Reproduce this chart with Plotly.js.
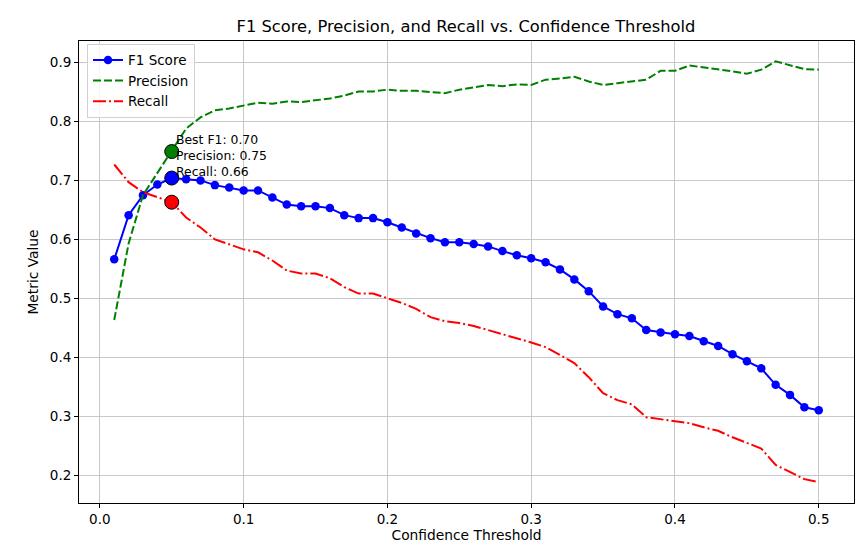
<!DOCTYPE html>
<html>
<head>
<meta charset="utf-8">
<script src="https://cdn.plot.ly/plotly-3.0.1.min.js"></script>
<style>html,body{margin:0;padding:0;background:#fff;}#chart{width:855px;height:544px;}</style>
</head>
<body>
<div id="chart"></div>
<script>
const thresholds = [0.01,0.02,0.03,0.04,0.05,0.06,0.07,0.08,0.09,0.10,
  0.11,0.12,0.13,0.14,0.15,0.16,0.17,0.18,0.19,0.20,
  0.21,0.22,0.23,0.24,0.25,0.26,0.27,0.28,0.29,0.30,
  0.31,0.32,0.33,0.34,0.35,0.36,0.37,0.38,0.39,0.40,
  0.41,0.42,0.43,0.44,0.45,0.46,0.47,0.48,0.49,0.50];
const f1Scores = [0.566,0.641,0.675,0.693,0.704,0.702,0.700,0.692,0.688,0.683,
  0.683,0.671,0.659,0.656,0.656,0.653,0.641,0.636,0.636,0.629,
  0.620,0.610,0.602,0.595,0.595,0.592,0.588,0.580,0.573,0.568,
  0.561,0.549,0.532,0.512,0.486,0.473,0.466,0.446,0.442,0.439,
  0.436,0.427,0.419,0.405,0.393,0.381,0.353,0.336,0.315,0.310];
const precisions = [0.463,0.593,0.675,0.712,0.749,0.788,0.807,0.819,0.822,0.827,
  0.832,0.830,0.834,0.833,0.836,0.839,0.844,0.851,0.851,0.854,
  0.852,0.852,0.850,0.848,0.854,0.858,0.862,0.860,0.863,0.862,
  0.871,0.873,0.876,0.868,0.862,0.865,0.868,0.871,0.886,0.886,
  0.895,0.892,0.889,0.885,0.881,0.888,0.902,0.895,0.889,0.888];
const recalls = [0.727,0.697,0.680,0.671,0.663,0.637,0.620,0.600,0.592,0.583,
  0.578,0.564,0.547,0.542,0.542,0.534,0.519,0.508,0.508,0.500,
  0.492,0.482,0.468,0.461,0.458,0.453,0.446,0.440,0.432,0.425,
  0.417,0.403,0.390,0.366,0.339,0.327,0.320,0.298,0.295,0.291,
  0.288,0.281,0.275,0.264,0.254,0.245,0.217,0.205,0.193,0.188];
const xTicks = [0.0,0.1,0.2,0.3,0.4,0.5];
const yTicks = [0.2,0.3,0.4,0.5,0.6,0.7,0.8,0.9];

let best = 0;
for (let i = 1; i < f1Scores.length; i++) if (f1Scores[i] > f1Scores[best]) best = i;
const bx = thresholds[best];

const font = "DejaVu Sans, Verdana, sans-serif";
const traces = [
  {x: thresholds, y: f1Scores, type: 'scatter', mode: 'lines+markers', name: 'F1 Score',
   line: {color: '#0000ff', width: 2}, marker: {color: '#0000ff', size: 8.5}},
  {x: thresholds, y: precisions, type: 'scatter', mode: 'lines', name: 'Precision',
   line: {color: '#008000', width: 2, dash: '8px,3px'}},
  {x: thresholds, y: recalls, type: 'scatter', mode: 'lines', name: 'Recall',
   line: {color: '#ff0000', width: 2, dash: '13px,3px,2px,3px'}},
  {x: [bx], y: [f1Scores[best]], type: 'scatter', mode: 'markers', showlegend: false,
   marker: {color: '#0000ff', size: 14, line: {color: '#000', width: 1}}},
  {x: [bx], y: [precisions[best]], type: 'scatter', mode: 'markers', showlegend: false,
   marker: {color: '#008000', size: 14, line: {color: '#000', width: 1}}},
  {x: [bx], y: [recalls[best]], type: 'scatter', mode: 'markers', showlegend: false,
   marker: {color: '#ff0000', size: 14, line: {color: '#000', width: 1}}}
];

const axisCommon = {
  showline: true, linecolor: '#000', linewidth: 1, mirror: true,
  ticks: 'outside', ticklen: 4, tickwidth: 1, tickcolor: '#000',
  showgrid: true, gridcolor: '#c8c8c8', gridwidth: 1, zeroline: false,
  tickfont: {family: font, size: 13.5, color: '#000'}
};

const layout = {
  width: 855, height: 544,
  margin: {l: 79, r: 1, t: 41, b: 41},
  paper_bgcolor: '#fff', plot_bgcolor: '#fff',
  font: {family: font, color: '#000'},
  title: {text: 'F1 Score, Precision, and Recall vs. Confidence Threshold',
          font: {family: font, size: 16.3, color: '#000'},
          x: 466/855, xanchor: 'center', y: 1 - 26/544, yanchor: 'middle'},
  xaxis: Object.assign({}, axisCommon, {
    range: [-0.0145, 0.5245], tickvals: xTicks, ticktext: xTicks.map(v => v.toFixed(1)),
    title: {text: 'Confidence Threshold', font: {family: font, size: 13.8, color: '#000'}, standoff: 2}
  }),
  yaxis: Object.assign({}, axisCommon, {
    range: [0.1525, 0.9366], tickvals: yTicks, ticktext: yTicks.map(v => v.toFixed(1)),
    title: {text: 'Metric Value', font: {family: font, size: 13.8, color: '#000'}, standoff: 7}
  }),
  showlegend: true,
  legend: {x: 0.0103, y: 0.994, xanchor: 'left', yanchor: 'top',
           bgcolor: 'rgba(255,255,255,0.8)', bordercolor: '#d0d0d0', borderwidth: 1,
           font: {family: font, size: 13.5, color: '#000'}, tracegroupgap: 0},
  annotations: [{
    x: bx, y: 0.742, xref: 'x', yref: 'y', xanchor: 'left', yanchor: 'middle', xshift: 2,
    showarrow: false, align: 'left',
    text: 'Best F1: ' + f1Scores[best].toFixed(2) + '<br>Precision: ' + precisions[best].toFixed(2) +
          '<br>Recall: ' + recalls[best].toFixed(2),
    font: {family: font, size: 12.4, color: '#000'}
  }]
};

Plotly.newPlot('chart', traces, layout, {displayModeBar: false, staticPlot: true});
</script>
</body>
</html>
